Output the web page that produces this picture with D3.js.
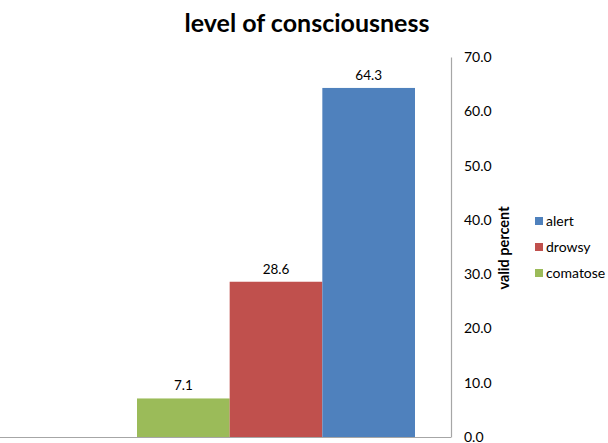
<!DOCTYPE html>
<html>
<head>
<meta charset="utf-8">
<script src="https://cdn.jsdelivr.net/npm/d3@7"></script>
<style>
  html, body { margin: 0; padding: 0; background: #fff; }
  svg { display: block; font-family: Lato, "Open Sans", "Liberation Sans", sans-serif; }
</style>
</head>
<body>
<svg id="chart" width="608" height="443"></svg>
<script>
// Level of consciousness, valid percent
const categories = ["comatose", "drowsy", "alert"];
const values = [7.1, 28.6, 64.3];
const colors = ["#9BBB59", "#C0504D", "#4F81BD"];
const legendOrder = ["alert", "drowsy", "comatose"];
const yTicks = [0, 10, 20, 30, 40, 50, 60, 70];

const svg = d3.select("#chart");

const plot = { left: 0, right: 451, top: 57, bottom: 437 };

const x = d3.scaleBand()
  .domain(categories)
  .range([137, 415])
  .padding(0);

const y = d3.scaleLinear()
  .domain([0, 70])
  .range([plot.bottom, plot.top]);

// title
svg.append("text")
  .attr("x", 307)
  .attr("y", 32)
  .attr("text-anchor", "middle")
  .attr("font-size", 25)
  .attr("font-weight", "bold")
  .attr("fill", "#000")
  .text("level of consciousness");

// bars
svg.append("g")
  .selectAll("rect")
  .data(categories)
  .join("rect")
  .attr("x", d => x(d))
  .attr("y", (d, i) => y(values[i]))
  .attr("width", x.bandwidth())
  .attr("height", (d, i) => y(0) - y(values[i]))
  .attr("fill", (d, i) => colors[i]);

// value labels
svg.append("g")
  .selectAll("text")
  .data(categories)
  .join("text")
  .attr("x", d => x(d) + x.bandwidth() / 2)
  .attr("y", (d, i) => y(values[i]) - 8)
  .attr("text-anchor", "middle")
  .attr("font-size", 13.5)
  .attr("fill", "#000")
  .text((d, i) => values[i].toFixed(1));

// baseline
svg.append("line")
  .attr("x1", plot.left)
  .attr("x2", plot.right)
  .attr("y1", plot.bottom + 0.5)
  .attr("y2", plot.bottom + 0.5)
  .attr("stroke", "#A6A6A6")
  .attr("stroke-width", 1.2);

// right value axis
const yAxis = d3.axisRight(y)
  .tickValues(yTicks)
  .tickSize(0)
  .tickPadding(13)
  .tickFormat(d => d.toFixed(1));

const ag = svg.append("g")
  .attr("transform", `translate(${plot.right},0)`)
  .call(yAxis);
ag.select(".domain").attr("stroke", "#A6A6A6").attr("stroke-width", 1.2);
ag.selectAll("text")
  .attr("font-size", 14)
  .attr("fill", "#000")
  .attr("font-family", 'Lato, "Open Sans", "Liberation Sans", sans-serif');

// axis title
svg.append("text")
  .attr("transform", "translate(509,248) rotate(-90)")
  .attr("text-anchor", "middle")
  .attr("font-size", 14.5)
  .attr("font-weight", "bold")
  .attr("fill", "#000")
  .text("valid percent");

// legend
const legend = svg.append("g");
legendOrder.forEach((name, i) => {
  const ci = categories.indexOf(name);
  const ly = 221 + i * 26;
  legend.append("rect")
    .attr("x", 535)
    .attr("y", ly - 4)
    .attr("width", 8)
    .attr("height", 8)
    .attr("fill", colors[ci]);
  legend.append("text")
    .attr("x", 546)
    .attr("y", ly)
    .attr("dy", "0.35em")
    .attr("font-size", 14)
    .attr("fill", "#000")
    .text(name);
});
</script>
</body>
</html>
